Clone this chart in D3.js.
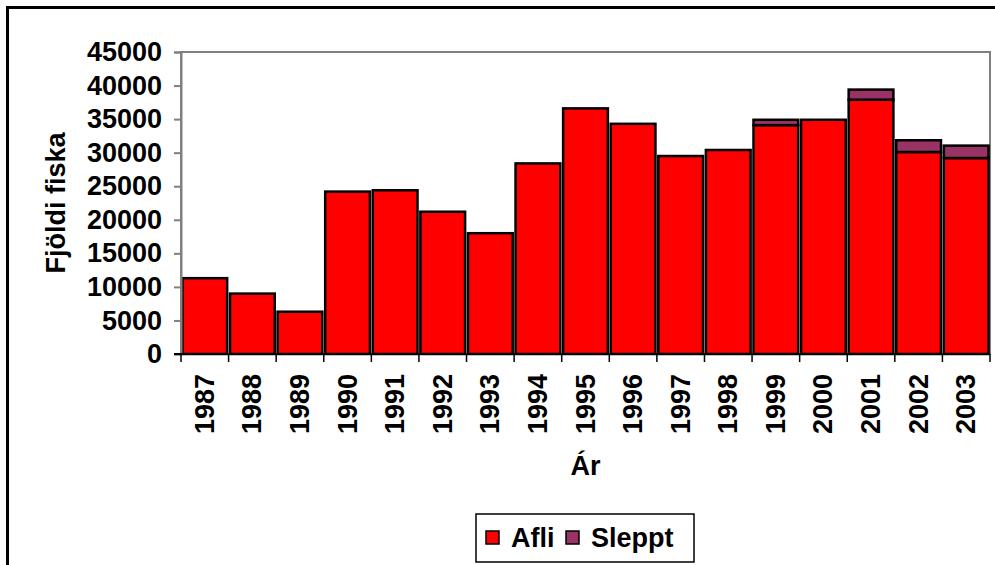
<!DOCTYPE html>
<html>
<head>
<meta charset="utf-8">
<script src="https://cdn.jsdelivr.net/npm/d3@7"></script>
<style>
  body { margin: 0; background: #fff; }
  text { font-family: Arial, "Liberation Sans", sans-serif; font-weight: bold; }
</style>
</head>
<body>
<script>
var w = 995;
var h = 565;

// data
var years = ["1987", "1988", "1989", "1990", "1991", "1992", "1993", "1994", "1995",
             "1996", "1997", "1998", "1999", "2000", "2001", "2002", "2003"];
var afli = [11300, 9000, 6300, 24200, 24400, 21200, 18000, 28400, 36600,
            34300, 29500, 30400, 34100, 34900, 37900, 30100, 29200];
var sleppt = [0, 0, 0, 0, 0, 0, 0, 0, 0,
              0, 0, 0, 800, 0, 1500, 1750, 1850];
var yTicks = [0, 5000, 10000, 15000, 20000, 25000, 30000, 35000, 40000, 45000];
var seriesNames = ["Afli", "Sleppt"];
var colors = ["#ff0000", "#993366"];

var svg = d3.select("body").append("svg").attr("width", w).attr("height", h);

// outer chart frame (runs off the right and bottom edge)
svg.append("rect").attr("x", 7.5).attr("y", 7.5).attr("width", 1000).attr("height", 600)
    .attr("fill", "none").attr("stroke", "#000").attr("stroke-width", 3);

var pL = 181, pR = 990, pT = 52, pB = 354;

var xS = d3.scaleBand().domain(years).range([pL, pR]).paddingInner(0.06).paddingOuter(0.03);
var yS = d3.scaleLinear().domain([0, 45000]).range([pB, pT]);

// plot frame
svg.append("rect").attr("x", pL).attr("y", pT).attr("width", pR - pL).attr("height", pB - pT)
    .attr("fill", "none").attr("stroke", "#808080").attr("stroke-width", 2);

// stacked bars
var rows = years.map(function(y, i) { return {year: y, Afli: afli[i], Sleppt: sleppt[i]}; });
var stack = d3.stack().keys(seriesNames)(rows);

svg.selectAll("g.series").data(stack).enter().append("g")
    .attr("fill", function(d, i) { return colors[i]; })
    .selectAll("rect").data(function(d) { return d.filter(function(p) { return p[1] > p[0]; }); })
    .enter().append("rect")
    .attr("x", function(d) { return xS(d.data.year); })
    .attr("y", function(d) { return yS(d[1]); })
    .attr("width", xS.bandwidth())
    .attr("height", function(d) { return yS(d[0]) - yS(d[1]); })
    .attr("stroke", "#000")
    .attr("stroke-width", 2.5);

// y axis
var yA = d3.axisLeft(yS).tickValues(yTicks).tickSize(7).tickPadding(12).tickFormat(d3.format("d"));
var gy = svg.append("g").attr("transform", "translate(" + pL + ",0)").call(yA);
gy.select(".domain").attr("stroke", "#808080").attr("stroke-width", 2);
gy.selectAll(".tick line").attr("stroke", "#808080").attr("stroke-width", 2);
gy.selectAll(".tick text").attr("font-size", "27px").attr("fill", "#000")
    .style("font-family", "Arial, 'Liberation Sans', sans-serif");

// x axis: ticks at category boundaries
var step = xS.step();
var x0 = xS(years[0]) - xS.paddingOuter() * step;
var bounds = d3.range(years.length + 1).map(function(i) { return x0 + i * step; });
svg.append("line").attr("x1", pL - 7).attr("x2", pR).attr("y1", pB).attr("y2", pB)
    .attr("stroke", "#000").attr("stroke-width", 2);
svg.selectAll("line.xt").data(bounds).enter().append("line")
    .attr("x1", function(d) { return d; }).attr("x2", function(d) { return d; })
    .attr("y1", pB).attr("y2", pB + 8)
    .attr("stroke", "#000").attr("stroke-width", 1.5);

svg.selectAll("text.year").data(years).enter().append("text")
    .text(function(d) { return d; })
    .attr("transform", function(d) {
        return "translate(" + (xS(d) + xS.bandwidth() / 2 + 9) + "," + (pB + 20) + ") rotate(-90)";
    })
    .attr("text-anchor", "end")
    .attr("font-size", "27px");

// axis titles
svg.append("text").text("Fjöldi fiska")
    .attr("transform", "translate(65," + ((pT + pB) / 2) + ") rotate(-90)")
    .attr("text-anchor", "middle").attr("font-size", "27px");
svg.append("text").text("Ár")
    .attr("x", (pL + pR) / 2).attr("y", 475)
    .attr("text-anchor", "middle").attr("font-size", "27px");

// legend
var lg = svg.append("g");
lg.append("rect").attr("x", 476).attr("y", 514).attr("width", 218).attr("height", 48)
    .attr("fill", "#fff").attr("stroke", "#000").attr("stroke-width", 1.5);
var legX = [486, 566];
seriesNames.forEach(function(name, i) {
    lg.append("rect").attr("x", legX[i]).attr("y", 531).attr("width", 13).attr("height", 13)
        .attr("fill", colors[i]).attr("stroke", "#000").attr("stroke-width", 1.5);
    lg.append("text").text(name).attr("x", legX[i] + 25).attr("y", 547).attr("font-size", "27px");
});
</script>
</body>
</html>
